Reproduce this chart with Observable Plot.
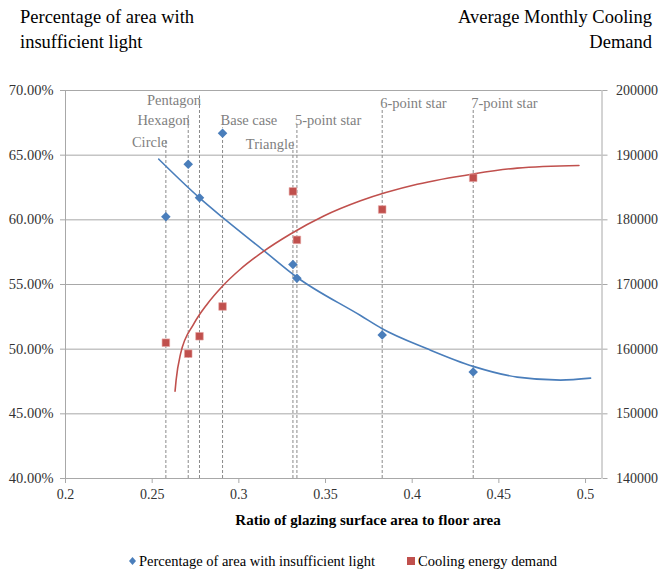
<!DOCTYPE html>
<html>
<head>
<meta charset="utf-8">
<script src="https://cdn.jsdelivr.net/npm/d3@7"></script>
<script src="https://cdn.jsdelivr.net/npm/@observablehq/plot@0.6"></script>
<style>
  body { margin: 0; background: #fff; font-family: "Liberation Serif", "Times New Roman", serif; }
  #wrap { position: relative; width: 660px; height: 569px; overflow: hidden; background: #fff; font-family: "Liberation Serif", "Times New Roman", serif; }
  .ttl { position: absolute; font-size: 18.5px; line-height: 25px; color: #000; font-family: "Liberation Serif", serif; }
  #chart { position: absolute; left: 0; top: 60px; }
  #chart svg, #chart svg text { font-family: "Liberation Serif", "Times New Roman", serif !important; }
  #xtitle { position: absolute; top: 511px; left: 368px; transform: translateX(-50%); font-weight: bold; font-size: 15px; line-height: 18px; white-space: nowrap; color: #000; font-family: "Liberation Serif", serif; }
  .leg { position: absolute; top: 552px; font-size: 14.5px; line-height: 18px; white-space: nowrap; color: #000; display: flex; align-items: center; font-family: "Liberation Serif", serif; }
  .leg svg { margin-right: 2px; }
</style>
</head>
<body>
<div id="wrap">
  <div class="ttl" style="left:20px; top:5px;">Percentage of area with<br>insufficient light</div>
  <div class="ttl" style="right:8px; top:5px; text-align:right;">Average Monthly Cooling<br>Demand</div>
  <div id="chart"></div>
  <div id="xtitle">Ratio of glazing surface area to floor area</div>
  <div class="leg" style="left:128px;"><svg width="9" height="10"><path d="M4.5,1 L8,5 L4.5,9 L1,5 Z" fill="#4a7ebb"/></svg>Percentage of area with insufficient light</div>
  <div class="leg" style="left:406px;"><svg width="10" height="10"><rect x="1" y="1" width="8" height="8" fill="#c0504d"/></svg>Cooling energy demand</div>
</div>
<script>
// ---- data ----
const shapes = ["Circle", "Hexagon", "Pentagon", "Base case", "Triangle", "5-point star", "6-point star", "7-point star"];
const ratio = [0.2579, 0.2708, 0.2773, 0.2906, 0.3312, 0.3335, 0.3827, 0.4352];
const insufficientLight = [0.6024, 0.6430, 0.6170, 0.6670, 0.5654, 0.5548, 0.5110, 0.4823];
const coolingDemand = [161000, 159300, 162000, 166600, 184400, 176900, 181600, 186500];

// annotation label levels (left-axis units) and leader-line tops
const labelLevel = [0.6597, 0.6772, 0.6927, 0.6772, 0.6585, 0.6772, 0.6898, 0.6898];
const lineTop = [0.6626, 0.6819, 0.6958, 0.6711, 0.6603, 0.6742, 0.6857, 0.6857];
const labelSide = ["end", "end", "end", "start", "end", "start", "start", "start"];

// trend lines
const lightTrendX = [0.2538, 0.2773, 0.2906, 0.3144, 0.3335, 0.3702, 0.3827, 0.4087, 0.4352, 0.4606, 0.4856, 0.5029];
const lightTrendY = [0.6469, 0.6170, 0.6019, 0.5762, 0.5556, 0.5260, 0.5158, 0.5003, 0.4867, 0.4784, 0.4761, 0.4776];
const coolTrendX = [0.2632, 0.2638, 0.2664, 0.2740, 0.2818, 0.2904, 0.3010, 0.3134, 0.3298, 0.3490, 0.3702, 0.4029, 0.4352, 0.4606, 0.4962];
const coolTrendY = [153500, 155200, 159300, 163900, 167000, 169700, 172400, 174970, 177810, 180600, 182950, 185500, 187100, 188000, 188400];

// axes
const leftTicks = [0.40, 0.45, 0.50, 0.55, 0.60, 0.65, 0.70];
const rightTicks = [140000, 150000, 160000, 170000, 180000, 190000, 200000];
const xTicks = [0.2, 0.25, 0.3, 0.35, 0.4, 0.45, 0.5];
const xDomain = [0.2, 0.5095];

// ---- derived tables ----
const rightMin = rightTicks[0], rightMax = rightTicks[rightTicks.length - 1];
const leftMin = leftTicks[0], leftMax = leftTicks[leftTicks.length - 1];
const toLeft = v => leftMin + (v - rightMin) / (rightMax - rightMin) * (leftMax - leftMin);
const toRight = y => rightMin + (y - leftMin) / (leftMax - leftMin) * (rightMax - rightMin);

const points = shapes.map((s, i) => ({
  shape: s, x: ratio[i], light: insufficientLight[i], cool: toLeft(coolingDemand[i]),
  level: labelLevel[i], top: lineTop[i], side: labelSide[i]
}));
const lightTrend = lightTrendX.map((x, i) => ({x, y: lightTrendY[i]}));
const coolTrend = coolTrendX.map((x, i) => ({x, y: toLeft(coolTrendY[i])}));

const BLUE = "#4a7ebb", RED = "#c0504d", GRID = "#a8a8a8", DASH = "#8a8a8a", LABEL = "#7f7f7f";
const SERIF = '"Liberation Serif", "Times New Roman", serif';

const chart = Plot.plot({
  width: 660,
  height: 460,
  marginTop: 30,
  marginBottom: 42,
  marginLeft: 65,
  marginRight: 58.5,
  x: {domain: xDomain, axis: null},
  y: {domain: [leftMin, leftMax], axis: null},
  style: {fontFamily: SERIF, fontSize: "14px", color: "#333", background: "transparent", overflow: "visible"},
  marks: [
    Plot.ruleY(leftTicks, {stroke: GRID, strokeWidth: 1}),
    Plot.ruleX(xDomain, {stroke: GRID, strokeWidth: 1}),
    Plot.ruleX(points, {x: "x", y1: leftMin, y2: "top", stroke: DASH, strokeWidth: 1, strokeDasharray: "3,2"}),
    Plot.text(points.filter(d => d.side === "end"), {x: "x", y: "level", text: "shape", textAnchor: "end", dx: 1.5, fill: LABEL, fontSize: 14.5, fontFamily: SERIF}),
    Plot.text(points.filter(d => d.side === "start"), {x: "x", y: "level", text: "shape", textAnchor: "start", dx: -2, fill: LABEL, fontSize: 14.5, fontFamily: SERIF}),
    Plot.axisY(leftTicks, {anchor: "left", tickFormat: d3.format(".2%"), tickSize: 5, tickPadding: 7, stroke: GRID, fill: "#333", fontSize: 14.5, fontFamily: SERIF, label: null}),
    Plot.axisY(rightTicks.map(toLeft), {anchor: "right", tickFormat: d => String(Math.round(toRight(d))), tickSize: 5, tickPadding: 9, stroke: GRID, fill: "#333", fontSize: 14, fontFamily: SERIF, label: null}),
    Plot.axisX(xTicks, {anchor: "bottom", tickFormat: d => String(+d.toFixed(2)), tickSize: 5, tickPadding: 6, stroke: GRID, fill: "#333", fontSize: 14, fontFamily: SERIF, label: null}),
    Plot.line(lightTrend, {x: "x", y: "y", stroke: BLUE, strokeWidth: 1.6, curve: "monotone-x"}),
    Plot.line(coolTrend, {x: "x", y: "y", stroke: RED, strokeWidth: 1.6, curve: "monotone-x"}),
    Plot.dot(points, {x: "x", y: "light", symbol: "diamond2", r: 4.3, fill: BLUE, stroke: "none"}),
    Plot.dot(points, {x: "x", y: "cool", symbol: "square", r: 4.3, fill: RED, stroke: "#e8a8a6", strokeWidth: 0.6})
  ]
});
document.getElementById("chart").appendChild(chart);
</script>
</body>
</html>
